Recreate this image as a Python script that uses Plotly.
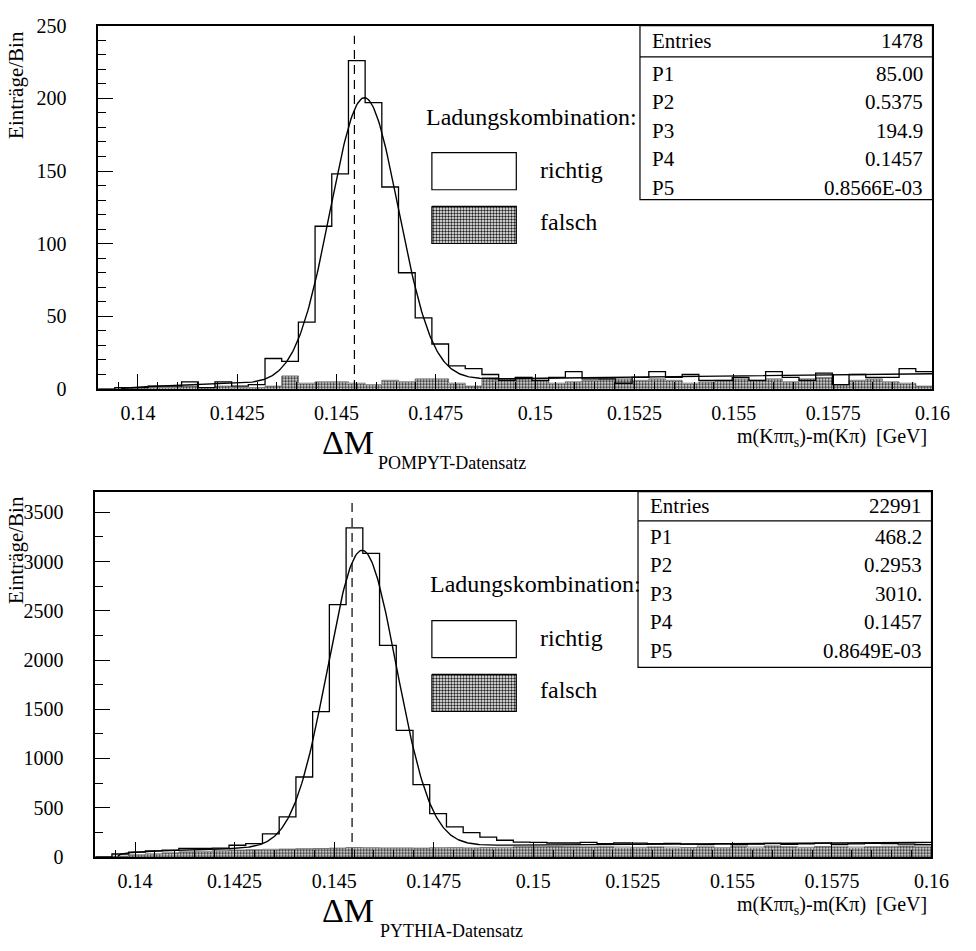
import numpy as np
import plotly.graph_objects as go

# ---------------- data ----------------
X_MIN, X_MAX, N_BINS = 0.139, 0.160, 50
edges = np.linspace(X_MIN, X_MAX, N_BINS + 1)
centers = 0.5 * (edges[:-1] + edges[1:])
bin_w = edges[1] - edges[0]
M_PI = 0.13957          # pion mass threshold of background term
DM_NOMINAL = 0.14545    # dashed reference line

x_tick_vals = [0.14, 0.1425, 0.145, 0.1475, 0.15, 0.1525, 0.155, 0.1575, 0.16]
x_tick_text = ["0.14", "0.1425", "0.145", "0.1475", "0.15", "0.1525", "0.155", "0.1575", "0.16"]

# POMPYT sample
pompyt_richtig = [0, 1, 1, 2, 2, 5, 1, 5, 2, 3,
                  21, 19, 46, 112, 148, 226, 197, 139, 80, 49, 31, 16, 14,
                  10, 6, 8, 6, 8, 12, 7, 7, 4, 8, 12, 8, 10, 6, 6, 8, 6, 12, 8, 6,
                  11, 3, 10, 8, 8, 14, 12]
pompyt_falsch = [0, 0, 1, 1, 1, 2, 1, 2, 1, 1,
                 2, 9, 4, 5, 5, 4, 3, 6, 5, 7, 7, 4, 2,
                 8, 7, 8, 6, 4, 5, 6, 7, 7, 6, 7, 6, 4, 5, 6, 7, 6, 7, 5, 7,
                 8, 3, 6, 7, 5, 4, 2]
pompyt_entries = "1478"
pompyt_pars = [85.00, 0.5375, 194.9, 0.1457, 0.8566e-03]
pompyt_par_text = ["85.00", "0.5375", "194.9", "0.1457", "0.8566E-03"]

# PYTHIA sample
pythia_richtig = [0, 30, 50, 62, 70, 86, 88, 90, 119, 136,
                  235, 408, 812, 1475, 2562, 3341, 3082, 2148, 1286, 735, 440, 305, 248,
                  202, 170, 150, 148, 142, 142, 148, 136, 142, 140, 136, 138, 130, 128,
                  132, 125, 130, 138, 128, 133, 140, 128, 132, 138, 135, 130, 125]
pythia_falsch = [0, 8, 22, 32, 42, 52, 58, 64, 70, 74,
                 78, 80, 84, 86, 90, 96, 94, 92, 92, 90, 94, 95, 92,
                 96, 98, 104, 108, 106, 104, 102, 104, 100, 98, 102, 100, 96, 110, 94,
                 108, 100, 112, 104, 98, 106, 110, 100, 104, 108, 112, 110]
pythia_entries = "22991"
pythia_pars = [468.2, 0.2953, 3010.0, 0.1457, 0.8649e-03]
pythia_par_text = ["468.2", "0.2953", "3010.", "0.1457", "0.8649E-03"]

# ---------------- page geometry (pixels) ----------------
W, H = 976, 951
FONT = "'Liberation Serif', 'Times New Roman', Times, 'DejaVu Serif', serif"


def fit(x, p):
    bg = p[0] * np.clip(x - M_PI, 0, None) ** p[1]
    sig = p[2] * np.exp(-0.5 * ((x - p[3]) / p[4]) ** 2)
    return bg + sig


fig = go.Figure()

panels = [
    dict(xa="x", ya="y", rich=pompyt_richtig, fal=pompyt_falsch, pars=pompyt_pars,
         ptxt=pompyt_par_text, entries=pompyt_entries, ymax=250, dtick=50, minor=10,
         dash_top=243, name="POMPYT-Datensatz",
         frame=(100, 15, 950, 387), dy=0),
    dict(xa="x2", ya="y2", rich=pythia_richtig, fal=pythia_falsch, pars=pythia_pars,
         ptxt=pythia_par_text, entries=pythia_entries, ymax=3710, dtick=500, minor=250,
         dash_top=3610, name="PYTHIA-Datensatz",
         frame=(97, 492, 949, 866), dy=479),
]

pattern = dict(shape=".", fgcolor="#222", bgcolor="white", size=3, solidity=0.5,
               fillmode="replace")

for p in panels:
    # falsch: stippled histogram
    fig.add_trace(go.Bar(x=centers, y=p["fal"], width=bin_w, xaxis=p["xa"], yaxis=p["ya"],
                         marker=dict(color="#777", line=dict(width=0), pattern=pattern),
                         showlegend=False, hoverinfo="skip"))
    fig.add_trace(go.Scatter(x=list(edges), y=list(p["fal"]) + [p["fal"][-1]], mode="lines",
                             line=dict(color="#555", width=0.8, shape="hv"),
                             xaxis=p["xa"], yaxis=p["ya"], showlegend=False, hoverinfo="skip"))
    # richtig: open step histogram
    rx = [edges[0]] + list(edges)
    ry = [0] + list(p["rich"]) + [p["rich"][-1]]
    fig.add_trace(go.Scatter(x=rx, y=ry, mode="lines",
                             line=dict(color="black", width=1.3, shape="hv"),
                             xaxis=p["xa"], yaxis=p["ya"], showlegend=False, hoverinfo="skip"))
    # fit curve
    xf = np.linspace(M_PI + 1e-6, X_MAX, 700)
    fig.add_trace(go.Scatter(x=xf, y=fit(xf, p["pars"]), mode="lines",
                             line=dict(color="black", width=1.4),
                             xaxis=p["xa"], yaxis=p["ya"], showlegend=False, hoverinfo="skip"))
    # dashed nominal line
    fig.add_trace(go.Scatter(x=[DM_NOMINAL, DM_NOMINAL], y=[0, p["dash_top"]], mode="lines",
                             line=dict(color="black", width=1.2, dash="9px,6px"),
                             xaxis=p["xa"], yaxis=p["ya"], showlegend=False, hoverinfo="skip"))


def paper(xp, yp):
    return xp / W, 1 - yp / H


axis_common = dict(showline=True, linecolor="black", linewidth=1.5, mirror=True,
                   showgrid=False, zeroline=False, ticks="inside", tickcolor="black",
                   tickwidth=1.2, tickfont=dict(family=FONT, size=20, color="black"))

layout = dict(width=W, height=H, margin=dict(l=0, r=0, t=0, b=0),
              paper_bgcolor="white", plot_bgcolor="rgba(0,0,0,0)", bargap=0,
              barmode="overlay", showlegend=False, font=dict(family=FONT, color="black"))

for i, p in enumerate(panels):
    x0, y0, x1, y1 = p["frame"]
    xk = "xaxis" if i == 0 else "xaxis2"
    yk = "yaxis" if i == 0 else "yaxis2"
    layout[xk] = dict(axis_common, domain=[x0 / W, x1 / W], range=[X_MIN, X_MAX],
                      anchor=p["ya"], tickvals=x_tick_vals, ticktext=x_tick_text,
                      ticklen=15, ticklabelstandoff=5,
                      minor=dict(dtick=0.0005, tick0=0.14, ticklen=7, ticks="inside",
                                 tickcolor="black", tickwidth=1))
    layout[yk] = dict(axis_common, domain=[1 - y1 / H, 1 - y0 / H], range=[0, p["ymax"]],
                      anchor=p["xa"], dtick=p["dtick"], tick0=0, ticklen=15,
                      ticklabelstandoff=26,
                      minor=dict(dtick=p["minor"], ticklen=8, ticks="inside",
                                 tickcolor="black", tickwidth=1))

# overlay pixel axes for decorations (legend glyphs)
layout["xaxis3"] = dict(domain=[0, 1], range=[0, W], visible=False, anchor="y3")
layout["yaxis3"] = dict(domain=[0, 1], range=[H, 0], visible=False, anchor="x3")
fig.update_layout(**layout)

shapes = []
annotations = []


def txt(text, xp, yp, size, xanchor="left", angle=0):
    xx, yy = paper(xp, yp)
    annotations.append(dict(text=text, x=xx, y=yy, xref="paper", yref="paper",
                            xanchor=xanchor, yanchor="middle", showarrow=False,
                            textangle=angle,
                            font=dict(family=FONT, size=size, color="black")))


def rect(xa, ya, xb, yb, fill="white"):
    a = paper(xa, ya)
    b = paper(xb, yb)
    shapes.append(dict(type="rect", xref="paper", yref="paper", x0=a[0], y0=a[1],
                       x1=b[0], y1=b[1], line=dict(color="black", width=1.2),
                       fillcolor=fill, layer="above"))


def hline(xa, xb, yp):
    a = paper(xa, yp)
    b = paper(xb, yp)
    shapes.append(dict(type="line", xref="paper", yref="paper", x0=a[0], y0=a[1],
                       x1=b[0], y1=b[1], line=dict(color="black", width=1.2)))


for i, p in enumerate(panels):
    dy = p["dy"]
    x0, y0, x1, y1 = p["frame"]
    # y-axis title
    txt("Einträge/Bin", 17, (76 if i == 0 else 552), 21, xanchor="center", angle=-90)
    # x-axis labels
    txt("ΔM", 355, 442 + dy, 34, xanchor="center")
    txt(p["name"], 460, 463 + dy, 18, xanchor="center")
    txt("m(Kππ<sub>s</sub>)-m(Kπ)&nbsp;&nbsp;[GeV]", 946, 437 + dy, 20, xanchor="right")
    # legend
    txt("Ladungskombination:", 432 + (4 if i else 0), 108 + dy, 24)
    rect(440, 145 + dy, 526, 183 + dy)
    fig.add_trace(go.Scatter(x=[440, 526, 526, 440, 440],
                             y=[200 + dy, 200 + dy, 238 + dy, 238 + dy, 200 + dy],
                             mode="lines", fill="toself", fillcolor="#888",
                             fillpattern=pattern, line=dict(color="black", width=1.2),
                             xaxis="x3", yaxis="y3", showlegend=False, hoverinfo="skip"))
    txt("richtig", 548, 163 + dy, 24)
    txt("falsch", 548, 216 + dy, 24)
    # stats box
    bx0 = 652 if i == 0 else 650
    rect(bx0, y0, x1, 193 if i == 0 else 672)
    hline(bx0, x1, (47 if i == 0 else 522))
    ey = 31 if i == 0 else 507
    txt("Entries", bx0 + 10, ey, 21)
    txt(p["entries"], x1 - 8, ey, 21, xanchor="right")
    row0 = 64 if i == 0 else 538
    for k, val in enumerate(p["ptxt"]):
        ry = row0 + 29.3 * k
        txt(f"P{k + 1}", bx0 + 10, ry, 21)
        txt(val, x1 - 8, ry, 21, xanchor="right")

fig.update_layout(shapes=shapes, annotations=annotations)
fig.write_html("out.html", config={"displayModeBar": False},
               post_script="document.body.style.margin='0';"
                           "document.body.style.overflow='hidden';")
